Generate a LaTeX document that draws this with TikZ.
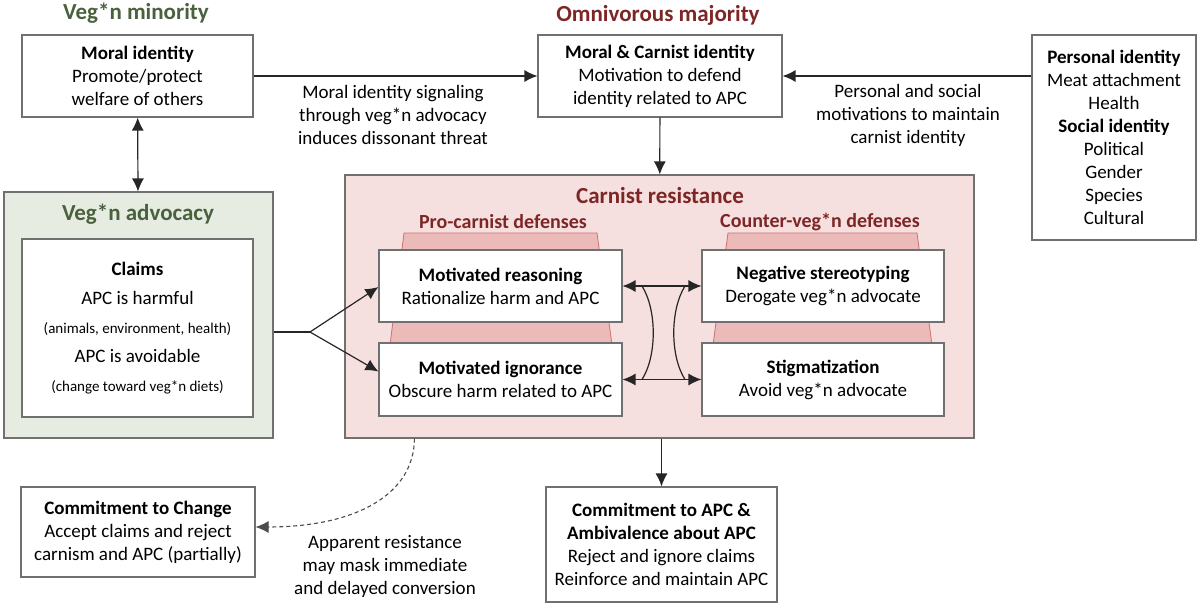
\documentclass[tikz,border=0pt]{standalone}
\usepackage{fontspec}
\setmainfont{Carlito}
\usetikzlibrary{arrows.meta,calc}
\definecolor{vgreen}{RGB}{74,97,62}
\definecolor{cred}{RGB}{125,38,38}
\definecolor{lgreen}{RGB}{231,236,226}
\definecolor{lpink}{RGB}{246,223,223}
\definecolor{mpink}{RGB}{237,186,186}
\definecolor{epink}{RGB}{206,112,112}
\definecolor{bgray}{RGB}{112,112,112}
\tikzset{>={Latex[length=13pt,width=12pt]}}

\begin{document}
\begin{tikzpicture}[x=1pt,y=-1pt,
    box/.style={draw=bgray, line width=1.1pt, fill=white, align=center, inner sep=0pt,
      font=\fontsize{19}{23}\selectfont},
    lbl/.style={align=center, inner sep=0pt, font=\fontsize{19}{23}\selectfont},
    gtitle/.style={text=vgreen, inner sep=0pt, font=\fontsize{23}{26}\selectfont\bfseries},
    rtitle/.style={text=cred, inner sep=0pt, font=\fontsize{23}{26}\selectfont\bfseries},
    rsub/.style={text=cred, inner sep=0pt, font=\fontsize{20}{22}\selectfont\bfseries},
    con/.style={line width=1.2pt, draw=black!85},
    trap/.style={fill=mpink, draw=epink, line width=0.8pt}]
  \useasboundingbox (0,0) rectangle (1200,605);

  % top row
  \node[gtitle] (tmin) at (136,13) {Veg*n minority};
  \node[rtitle] (tmaj) at (658,15) {Omnivorous majority};
  \node[box, minimum width=231, minimum height=82] (moral) at (137.5,76)
    {\textbf{Moral identity}\\Promote/protect\\welfare of others};
  \node[box, minimum width=244, minimum height=82] (mci) at (660,76)
    {\textbf{Moral \& Carnist identity}\\Motivation to defend\\identity related to APC};
  \node[box, minimum width=164, minimum height=205] (pers) at (1114,137.5)
    {\textbf{Personal identity}\\Meat attachment\\Health\\\textbf{Social identity}\\Political\\Gender\\Species\\Cultural};

  % advocacy
  \node[box, fill=lgreen, minimum width=269, minimum height=246] (adv) at (138.5,315) {};
  \node[gtitle] (tadv) at (138,214) {Veg*n advocacy};
  \node[box, minimum width=231, minimum height=178] (claims) at (137.5,328)
    {\textbf{Claims}\\[6pt]APC is harmful\\[6pt]{\fontsize{15}{17}\selectfont(animals, environment, health)}\\[6pt]
     APC is avoidable\\[6pt]{\fontsize{15}{17}\selectfont(change toward veg*n diets)}};

  % carnist resistance
  \node[box, fill=lpink, minimum width=629, minimum height=263] (resist) at (659.5,306.5) {};
  \node[rtitle] (tres) at (660,196) {Carnist resistance};
  \node[rsub] (tpro) at (503,222) {Pro-carnist defenses};
  \node[rsub] (tcnt) at (820,222) {Counter-veg*n defenses};
  \draw[trap] (404,233) -- (597,233) -- (612,345) -- (390,345) -- cycle;
  \draw[trap] (728,233) -- (917,233) -- (932,345) -- (713,345) -- cycle;
  \node[box, minimum width=243, minimum height=72] (reason) at (500.5,286)
    {\textbf{Motivated reasoning}\\Rationalize harm and APC};
  \node[box, minimum width=243, minimum height=73] (ignor) at (500.5,379.5)
    {\textbf{Motivated ignorance}\\Obscure harm related to APC};
  \node[box, minimum width=242, minimum height=72] (stereo) at (823,286)
    {\textbf{Negative stereotyping}\\Derogate veg*n advocate};
  \node[box, minimum width=242, minimum height=73] (stigma) at (823,379.5)
    {\textbf{Stigmatization}\\Avoid veg*n advocate};

  % bottom row
  \node[box, minimum width=234, minimum height=90] (change) at (138,532)
    {\textbf{Commitment to Change}\\Accept claims and reject\\carnism and APC (partially)};
  \node[box, minimum width=231, minimum height=115] (apc) at (661.5,544.5)
    {\textbf{Commitment to APC \&}\\\textbf{Ambivalence about APC}\\Reject and ignore claims\\Reinforce and maintain APC};

  % labels
  \node[lbl] (lsig) at (393,115) {Moral identity signaling\\through veg*n advocacy\\induces dissonant threat};
  \node[lbl] (lmot) at (908,115) {Personal and social\\motivations to maintain\\carnist identity};
  \node[lbl] (lapp) at (385,566) {Apparent resistance\\may mask immediate\\and delayed conversion};

  % connectors
  \draw[con,->] (moral) -- (mci);
  \draw[con,->] (mci.east -| pers.west) -- (mci.east);
  \draw[con,<->] (moral) -- (adv);
  \draw[con,->] (mci) -- (resist);
  \draw[con,->] (resist.south -| apc.north) -- (apc);
  \coordinate (fork) at (310,332);
  \draw[con] (fork -| adv.east) -- (fork);
  \draw[con,->] (fork) -- ([yshift=-1pt]reason.west);
  \draw[con,->] (fork) -- ([yshift=8pt]ignor.west);
  \draw[con,<->] (reason) -- (stereo);
  \draw[con,<->] (ignor) -- (stigma);
  \draw[con] (642,286) .. controls (657,310) and (657,356) .. (642,379.5);
  \draw[con] (685,286) .. controls (670,310) and (670,356) .. (685,379.5);
  \coordinate (dstart) at ($(resist.south west)+(70,0)$);
  \draw[con, draw=black!70, dash pattern=on 4pt off 3pt, line width=1.1pt, ->] (dstart) .. controls (414,495) and (355,527) .. ([yshift=5pt]change.east);
\end{tikzpicture}
\end{document}
